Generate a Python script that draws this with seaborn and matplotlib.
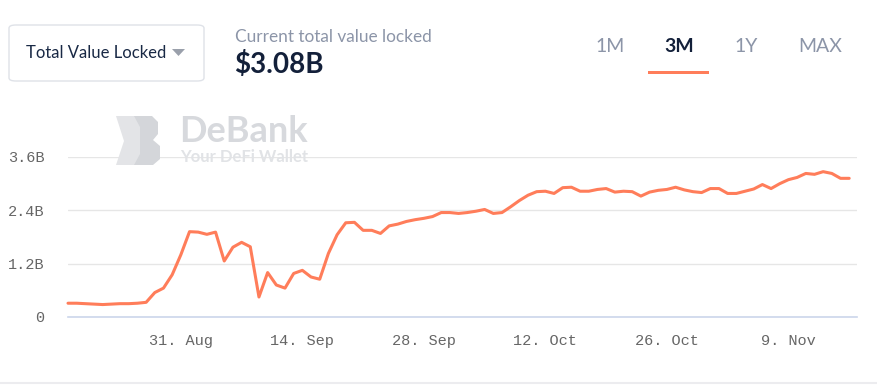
import matplotlib
matplotlib.use("Agg")
import matplotlib.pyplot as plt
from matplotlib.patches import FancyBboxPatch, Polygon, Rectangle
from matplotlib.lines import Line2D
import seaborn as sns
import pandas as pd

# ---------------------------------------------------------------- data
start_date = "2020-08-18"
tvl_billion = [
    0.31, 0.31, 0.30, 0.29, 0.28, 0.29, 0.30, 0.30, 0.31, 0.33,   # Aug 18-27
    0.55, 0.65, 0.95, 1.40,                                       # Aug 28-31
    1.92, 1.91, 1.86, 1.91, 1.26, 1.57, 1.68, 1.58, 0.45, 1.00,   # Sep 1-10
    0.72, 0.65, 0.98, 1.05, 0.90, 0.85, 1.43, 1.85, 2.12, 2.13,   # Sep 11-20
    1.95, 1.95, 1.88, 2.05, 2.09, 2.15, 2.19, 2.22, 2.26, 2.35,   # Sep 21-30
    2.35, 2.33, 2.35, 2.38, 2.42, 2.33, 2.35, 2.48, 2.62, 2.74,   # Oct 1-10
    2.82, 2.83, 2.78, 2.91, 2.92, 2.83, 2.83, 2.87, 2.89, 2.81,   # Oct 11-20
    2.83, 2.82, 2.72, 2.81, 2.85, 2.87, 2.92, 2.86, 2.82, 2.80,   # Oct 21-30
    2.89,                                                         # Oct 31
    2.89, 2.78, 2.78, 2.83, 2.88, 2.98, 2.89, 3.00, 3.09, 3.14,   # Nov 1-10
    3.23, 3.21, 3.27, 3.23, 3.12, 3.12,                           # Nov 11-16
]
x_tick_dates = ["2020-08-31", "2020-09-14", "2020-09-28",
                "2020-10-12", "2020-10-26", "2020-11-09"]
x_tick_labels = ["31. Aug", "14. Sep", "28. Sep", "12. Oct", "26. Oct", "9. Nov"]
y_ticks = [0, 1.2, 2.4, 3.6]
y_tick_labels = ["0", "1.2B", "2.4B", "3.6B"]
ranges = ["1M", "3M", "1Y", "MAX"]
current_value = "$3.08B"

dates = pd.date_range(start_date, periods=len(tvl_billion), freq="D")
df = pd.DataFrame({"date": dates, "tvl": tvl_billion})

# ---------------------------------------------------------------- style
sns.set_style("white")
plt.rcParams["font.family"] = ["Lato", "DejaVu Sans"]

W, H = 877, 385
fig = plt.figure(figsize=(W / 100, H / 100), dpi=100)


def fx(x):
    return x / W


def fy(y):
    return 1 - y / H


LINE = "#ff7d5a"
TICK = "#666666"

# plot area: x 68..857, y 157 (3.6B) .. 317 (0)
ax = fig.add_axes([fx(68), fy(317), fx(857) - fx(68), fy(157) - fy(317)])
sns.lineplot(data=df, x="date", y="tvl", ax=ax, color=LINE, linewidth=2.2,
             clip_on=False, zorder=5, solid_joinstyle="round", solid_capstyle="round")

ax.set_xlim(pd.Timestamp(start_date), pd.Timestamp(start_date) + pd.Timedelta(days=90.9))
ax.set_ylim(0, 3.6)
ax.set_xlabel("")
ax.set_ylabel("")

ax.set_xticks([pd.Timestamp(d) for d in x_tick_dates])
ax.set_xticklabels(x_tick_labels, family="Liberation Mono", fontsize=11, color=TICK)
ax.set_yticks(y_ticks)
ax.set_yticklabels(y_tick_labels, family="Liberation Mono", fontsize=11, color=TICK)
ax.tick_params(axis="x", length=9.5, width=1, color="#ccd6eb", pad=3, direction="out")
ax.tick_params(axis="y", length=0, pad=17)

ax.grid(axis="y", color="#e6e6e6", linewidth=1)
ax.grid(axis="x", visible=False)
for s in ["top", "right", "left"]:
    ax.spines[s].set_visible(False)
ax.spines["bottom"].set_color("#ccd6eb")
ax.spines["bottom"].set_linewidth(1.2)
ax.spines["bottom"].set_zorder(6)

# ---------------------------------------------------------------- header
box = FancyBboxPatch((fx(9), fy(81)), fx(204) - fx(9), fy(25) - fy(81),
                     boxstyle="round,pad=0,rounding_size=0.008",
                     transform=fig.transFigure, facecolor="white",
                     edgecolor="#dfe2e8", linewidth=1)
fig.patches.append(box)
fig.text(fx(26), fy(53), "Total Value Locked", fontsize=12, color="#192945",
         va="center", ha="left")
fig.patches.append(Polygon([[fx(172), fy(49)], [fx(185), fy(49)], [fx(178.5), fy(56)]],
                           closed=True, transform=fig.transFigure,
                           facecolor="#9aa0ab", edgecolor="none"))

fig.text(fx(235), fy(37), "Current total value locked", fontsize=12.4,
         color="#8c95a8", va="center", ha="left")
fig.text(fx(234), fy(65), current_value, fontsize=20, fontweight="bold",
         color="#13203a", va="center", ha="left")

range_x = [610, 679, 746, 820]
for label, cx in zip(ranges, range_x):
    active = label == "3M"
    fig.text(fx(cx), fy(47), label, fontsize=14,
             fontweight="bold" if active else "normal",
             color="#13203a" if active else "#8c95a8", ha="center", va="center")
fig.patches.append(Rectangle((fx(648), fy(73.5)), fx(709) - fx(648), fy(71) - fy(73.5),
                             transform=fig.transFigure, facecolor=LINE,
                             edgecolor="none"))

# ---------------------------------------------------------------- watermark
fig.patches.append(Polygon([[fx(116), fy(116)], [fx(136), fy(116)], [fx(150), fy(128)],
                            [fx(150), fy(153)], [fx(136), fy(165)], [fx(116), fy(165)],
                            [fx(124), fy(141)]],
                           closed=True, transform=fig.transFigure,
                           facecolor="#e3e4e7", edgecolor="none", zorder=0))
fig.patches.append(Polygon([[fx(134), fy(116)], [fx(152), fy(116)], [fx(158), fy(122)],
                            [fx(158), fy(134)], [fx(153), fy(140)], [fx(160), fy(146)],
                            [fx(160), fy(159)], [fx(153), fy(165)], [fx(134), fy(165)],
                            [fx(140), fy(154)], [fx(140), fy(127)]],
                           closed=True, transform=fig.transFigure,
                           facecolor="#d4d6da", edgecolor="none", zorder=0))
fig.text(fx(179), fy(132), "DeBank", fontsize=26, fontweight="bold",
         color="#d7d9dd", ha="left", va="center", zorder=0)
fig.text(fx(180), fy(157), "Your DeFi Wallet", fontsize=12, fontweight="bold",
         color="#e1e3e6", ha="left", va="center", zorder=0)

# bottom separator
fig.add_artist(Line2D([0, 1], [fy(383), fy(383)], transform=fig.transFigure,
                      color="#ececef", linewidth=1.5))

fig.savefig("out.png", dpi=100)
